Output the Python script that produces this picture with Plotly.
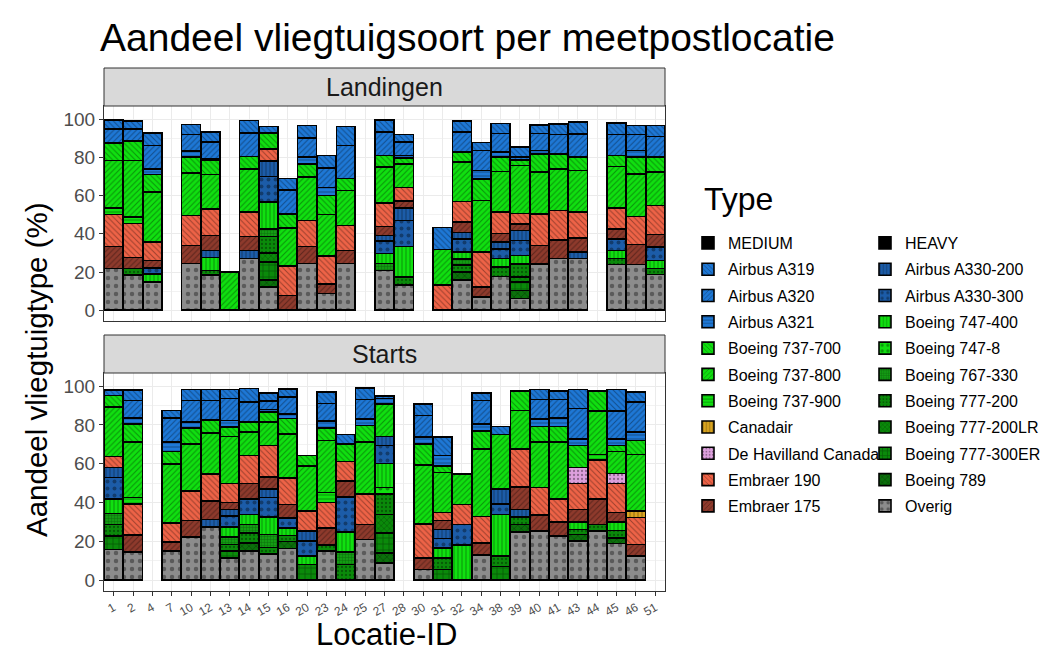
import plotly.graph_objects as go
from plotly.subplots import make_subplots

locaties = ['1', '2', '4', '7', '10', '12', '13', '14', '15', '16', '20', '23', '24', '25', '27',
            '28', '30', '31', '32', '34', '38', '39', '40', '41', '43', '44', '45', '46', '51']

# aandeel (%) per locatie, Landingen
l_a319 = [4.7, 4.0, 6.4, 0, 5.2, 5.2, 0, 6.6, 3.5, 6.0, 6.4, 6.4, 9.9, 0, 6.5, 4.0, 0, 11.5, 5.8, 4.3, 5.2, 5.3, 4.5, 5.6, 6.0, 0, 5.9, 4.7, 5.7]
l_a320 = [7.3, 6.5, 12.2, 0, 8.7, 8.7, 0, 12.2, 0, 12.6, 10.1, 10.4, 17.4, 0, 12.2, 7.0, 0, 0, 10.4, 10.5, 9.9, 1.4, 9.0, 10.1, 12.2, 0, 11.0, 8.3, 10.8]
l_a321 = [0, 0, 3.0, 0, 3.1, 0.9, 0, 0, 0, 0, 3.5, 4.0, 0, 0, 0, 1.2, 0, 0, 0, 4.3, 2.4, 0, 1.8, 0, 0, 0, 0, 3.5, 0]
l_b737_700 = [9.3, 10.1, 9.2, 0, 8.4, 7.3, 0, 6.4, 8.2, 7.3, 7.0, 10.0, 6.1, 0, 6.1, 3.1, 0, 0, 5.3, 11.3, 7.7, 2.9, 9.5, 7.8, 7.0, 0, 5.7, 8.7, 7.9]
l_b737_800 = [24.7, 29.6, 26.1, 0, 22.1, 17.9, 20.0, 22.7, 0, 20.0, 22.6, 21.7, 18.3, 0, 18.8, 12.5, 0, 18.6, 20.6, 27.0, 21.2, 25.1, 21.8, 21.8, 21.8, 0, 21.6, 22.3, 17.4]
l_b737_900 = [3.5, 3.4, 0, 0, 0, 0, 0, 0, 0, 0, 0, 0, 0, 0, 0, 0, 0, 0, 0, 0, 0, 0, 0, 0, 0, 0, 0, 0, 0]
l_canadair = [0] * 29
l_dhc = [0] * 29
l_e190 = [16.7, 17.8, 9.6, 0, 15.7, 13.9, 0, 12.7, 6.4, 15.3, 13.6, 14.5, 13.1, 0, 12.1, 7.0, 0, 13.1, 10.8, 18.2, 11.1, 5.5, 16.5, 15.3, 13.4, 0, 11.0, 14.6, 15.1]
l_e175 = [11.6, 5.7, 4.0, 0, 9.5, 7.9, 0, 7.3, 0, 7.8, 9.0, 5.2, 6.9, 0, 4.7, 3.5, 0, 0, 5.5, 5.2, 4.5, 3.4, 9.6, 9.9, 7.4, 0, 5.2, 10.5, 6.6]
l_a330_200 = [0, 0, 0, 0, 0, 3.8, 0, 4.3, 8.0, 0, 0, 0, 0, 0, 3.0, 6.6, 0, 0, 3.2, 0, 3.7, 5.2, 0, 0, 3.5, 0, 0, 0, 0]
l_a330_300 = [0, 0, 3.0, 0, 0, 0, 0, 0, 13.4, 0, 0, 0, 0, 0, 6.6, 13.6, 0, 0, 6.9, 0, 5.0, 7.8, 0, 0, 0, 0, 6.1, 0, 7.0]
l_b747_400 = [0, 0, 4.3, 0, 0, 6.6, 0, 0, 14.0, 0, 0, 0, 0, 0, 5.2, 16.0, 0, 0, 3.8, 0, 4.5, 4.4, 0, 0, 0, 0, 4.3, 0, 4.3]
l_b747_8 = [0] * 29
l_b767_330 = [0, 0, 0, 0, 0, 0, 0, 0, 4.0, 0, 0, 0, 0, 0, 3.5, 0, 0, 0, 3.0, 0, 0, 0, 0, 0, 0, 0, 0, 0, 0]
l_b777_200 = [0, 3.5, 0, 0, 0, 2.6, 0, 0, 8.7, 0, 0, 0, 0, 0, 0, 4.3, 0, 0, 3.7, 0, 4.8, 6.9, 0, 0, 0, 0, 3.0, 0, 3.0]
l_b777_200lr = [0, 0, 0, 0, 0, 0, 0, 0, 4.7, 0, 0, 0, 0, 0, 0, 0, 0, 0, 0, 0, 0, 2.6, 0, 0, 0, 0, 0, 0, 0]
l_b777_300er = [0, 0, 0, 0, 0, 0, 0, 0, 9.5, 0, 0, 0, 0, 0, 0, 0, 0, 0, 0, 0, 0, 4.4, 0, 0, 0, 0, 0, 0, 0]
l_b789 = [0, 0, 0, 0, 0, 0, 0, 0, 3.5, 0, 0, 0, 0, 0, 0, 0, 0, 0, 4.3, 0, 0, 4.3, 0, 0, 0, 0, 0, 0, 0]
l_overig = [21.8, 18.3, 14.8, 0, 24.4, 18.3, 0, 27.0, 12.2, 0, 24.4, 8.7, 24.4, 0, 20.9, 13.1, 0, 0, 15.7, 7.0, 17.7, 6.1, 24.3, 27.0, 27.0, 0, 24.0, 24.0, 18.8]

# aandeel (%) per locatie, Starts
s_a319 = [2.6, 5.2, 0, 3.8, 5.6, 5.6, 4.7, 6.9, 4.1, 4.3, 0, 6.1, 4.9, 6.0, 1.2, 0, 5.8, 9.5, 0, 3.9, 4.1, 0, 5.2, 4.5, 9.9, 0, 11.1, 5.2, 0]
s_a320 = [0, 9.0, 0, 12.6, 11.2, 10.0, 11.2, 10.4, 4.5, 8.7, 0, 9.0, 0, 9.9, 0, 0, 11.2, 0, 0, 12.2, 0, 0, 9.9, 9.4, 15.6, 0, 14.4, 15.6, 0]
s_a321 = [0, 3.1, 0, 4.7, 3.0, 0, 3.5, 0, 1.2, 2.2, 0, 3.5, 0, 3.4, 2.9, 0, 3.5, 5.2, 0, 3.4, 0, 0, 4.0, 4.5, 3.4, 0, 3.4, 4.3, 0]
s_b737_700 = [6.0, 9.5, 0, 6.5, 8.3, 6.9, 4.9, 5.2, 5.2, 8.1, 5.2, 6.5, 9.0, 8.7, 0, 0, 10.7, 3.5, 0, 9.5, 0, 10.1, 8.1, 8.1, 11.3, 10.4, 3.0, 7.3, 0]
s_b737_800 = [25.6, 28.5, 0, 30.3, 24.2, 21.1, 24.2, 12.1, 12.1, 22.5, 23.4, 26.8, 0, 26.8, 16.7, 0, 30.4, 20.7, 15.6, 34.6, 28.2, 19.9, 23.3, 29.4, 0, 22.5, 11.4, 29.1, 0]
s_b737_900 = [0, 3.2, 0, 0, 0, 0, 0, 0, 0, 0, 0, 5.2, 0, 0, 0, 0, 0, 0, 0, 0, 0, 0, 0, 0, 0, 2.8, 0, 0, 0]
s_canadair = [0, 0, 0, 0, 0, 0, 0, 0, 0, 0, 0, 0, 0, 0, 0, 0, 0, 0, 0, 0, 0, 0, 0, 0, 0, 0, 0, 3.4, 0]
s_dhc = [0, 0, 0, 0, 0, 0, 0, 0, 0, 0, 0, 0, 0, 0, 0, 0, 0, 0, 0, 0, 0, 0, 0, 0, 8.3, 0, 5.2, 0, 0]
s_e190 = [5.6, 16.2, 0, 9.9, 15.2, 13.9, 9.8, 14.4, 16.1, 13.9, 10.3, 13.0, 10.0, 15.6, 0, 0, 17.7, 4.0, 10.4, 13.9, 0, 19.5, 14.2, 11.6, 13.3, 20.2, 15.0, 13.9, 0]
s_e175 = [0, 8.7, 0, 4.8, 8.7, 9.5, 3.5, 8.1, 6.4, 6.9, 0, 9.0, 8.3, 7.8, 0, 0, 6.0, 4.7, 0, 6.0, 0, 11.6, 8.3, 7.4, 6.4, 13.0, 4.7, 6.0, 0]
s_a330_200 = [5.2, 0, 0, 0, 0, 4.0, 3.5, 0, 4.3, 0, 5.2, 0, 0, 0, 4.6, 0, 0, 4.6, 0, 0, 7.5, 4.0, 0, 0, 0, 0, 0, 0, 0]
s_a330_300 = [11.2, 0, 0, 0, 0, 0, 5.7, 7.8, 10.1, 5.2, 7.8, 0, 18.0, 0, 9.2, 0, 0, 4.9, 10.7, 0, 5.5, 0, 0, 0, 0, 0, 0, 0, 0]
s_b747_400 = [7.4, 0, 0, 0, 0, 0, 5.2, 5.2, 9.0, 3.8, 4.3, 0, 10.4, 0, 12.4, 0, 0, 5.2, 18.0, 0, 21.6, 0, 0, 0, 4.0, 0, 4.5, 0, 0]
s_b747_8 = [0, 0, 0, 0, 0, 0, 0, 0, 0, 0, 0, 0, 0, 0, 3.5, 0, 0, 0, 0, 0, 0, 0, 0, 0, 0, 0, 0, 0, 0]
s_b767_330 = [5.6, 0, 0, 0, 0, 0, 3.8, 4.3, 6.6, 0, 0, 0, 6.5, 0, 0, 0, 0, 0, 0, 0, 0, 0, 0, 0, 0, 0, 0, 0, 0]
s_b777_200 = [6.0, 0, 0, 0, 0, 0, 3.4, 5.2, 3.5, 3.1, 0, 3.1, 8.0, 0, 10.4, 0, 0, 6.0, 0, 0, 5.2, 3.8, 0, 0, 2.6, 3.4, 3.8, 0, 0]
s_b777_200lr = [0, 0, 0, 0, 0, 0, 0, 0, 0, 0, 0, 0, 0, 0, 9.5, 0, 0, 0, 0, 0, 0, 0, 0, 0, 0, 0, 0, 0, 0]
s_b777_300er = [7.0, 0, 0, 0, 0, 0, 3.5, 0, 0, 0, 8.0, 0, 0, 0, 10.4, 0, 0, 5.4, 0, 0, 7.1, 0, 0, 0, 0, 0, 0, 0, 0]
s_b789 = [0, 0, 0, 0, 0, 0, 0, 4.3, 0, 3.5, 0, 0, 0, 0, 5.2, 0, 0, 0, 0, 0, 0, 3.8, 0, 0, 3.4, 0, 2.9, 0, 0]
s_overig = [15.7, 14.5, 0, 14.9, 22.1, 27.3, 11.4, 14.9, 13.4, 16.4, 0, 14.9, 0, 20.9, 8.8, 0, 5.4, 0, 0, 13.0, 0, 24.9, 25.3, 22.7, 20.1, 25.3, 18.9, 12.3, 0]

# volgorde van onder naar boven in de stapel
soorten = [
    # naam, kleur, patroon, patroongrootte, legenda, landingen, starts
    ('Overig', '#8C8C8C', '.', 8, 'legend2', l_overig, s_overig),
    ('Boeing 789', '#0B700B', 'x', 5, 'legend2', l_b789, s_b789),
    ('Boeing 777-300ER', '#0A8A0A', '+', 6, 'legend2', l_b777_300er, s_b777_300er),
    ('Boeing 777-200LR', '#0A8A0A', 'x', 4, 'legend2', l_b777_200lr, s_b777_200lr),
    ('Boeing 777-200', '#0A8A0A', '.', 4, 'legend2', l_b777_200, s_b777_200),
    ('Boeing 767-330', '#139C13', '+', 3, 'legend2', l_b767_330, s_b767_330),
    ('Boeing 747-8', '#10E010', '.', 7, 'legend2', l_b747_8, s_b747_8),
    ('Boeing 747-400', '#10E010', '|', 4, 'legend2', l_b747_400, s_b747_400),
    ('Airbus A330-300', '#1C5CA8', '.', 7, 'legend2', l_a330_300, s_a330_300),
    ('Airbus A330-200', '#1C5CA8', '|', 4, 'legend2', l_a330_200, s_a330_200),
    ('HEAVY', 'black', '', 4, 'legend2', None, None),
    ('Embraer 175', '#8E3A2C', '/', 4, 'legend', l_e175, s_e175),
    ('Embraer 190', '#EE6347', '\\', 4, 'legend', l_e190, s_e190),
    ('De Havilland Canada', '#DDA0DD', '.', 4, 'legend', l_dhc, s_dhc),
    ('Canadair', '#DAA520', '|', 4, 'legend', l_canadair, s_canadair),
    ('Boeing 737-900', '#10E010', '-', 4, 'legend', l_b737_900, s_b737_900),
    ('Boeing 737-800', '#10E010', '/', 4, 'legend', l_b737_800, s_b737_800),
    ('Boeing 737-700', '#10E010', '\\', 4, 'legend', l_b737_700, s_b737_700),
    ('Airbus A321', '#1E78D6', '-', 4, 'legend', l_a321, s_a321),
    ('Airbus A320', '#1E78D6', '/', 4, 'legend', l_a320, s_a320),
    ('Airbus A319', '#1E78D6', '\\', 4, 'legend', l_a319, s_a319),
    ('MEDIUM', 'black', '', 4, 'legend', None, None),
]

FONT = 'Liberation Sans, Arial, sans-serif'


def leeg_naar_none(waarden):
    return [v if v else None for v in waarden]


fig = make_subplots(rows=2, cols=1, shared_xaxes=True)

for i, (naam, kleur, patroon, grootte, legenda, land, start) in enumerate(soorten):
    for rij, waarden in ((1, land), (2, start)):
        if waarden is None:
            x, y = [locaties[0]], [None]
        else:
            x, y = locaties, leeg_naar_none(waarden)
        fig.add_trace(go.Bar(
            x=x, y=y, name=naam,
            legendgroup=naam, legend=legenda, showlegend=(rij == 1),
            legendrank=len(soorten) - i,
            marker=dict(
                color=kleur,
                line=dict(color='black', width=1.6),
                pattern=dict(shape=patroon, fillmode='overlay', fgcolor='black',
                             fgopacity=0.35, size=grootte, solidity=0.25),
            ),
        ), row=rij, col=1)

as_stijl = dict(gridcolor='#EBEBEB', showline=True, linecolor='#333333', mirror=True,
                linewidth=1, zeroline=False)

fig.update_xaxes(type='category', categoryorder='array', categoryarray=locaties, **as_stijl)
fig.update_xaxes(showticklabels=False, ticks='', row=1, col=1)
fig.update_xaxes(ticks='outside', ticklen=4, tickcolor='#333333', tickangle=-30,
                 tickfont=dict(size=12, color='#4D4D4D'), row=2, col=1)
fig.update_yaxes(range=[-5.6, 106.8], tickvals=[0, 20, 40, 60, 80, 100],
                 ticks='outside', ticklen=4, tickcolor='#333333',
                 tickfont=dict(size=19, color='#4D4D4D'),
                 minor=dict(dtick=10, tick0=0, showgrid=True, gridcolor='#F2F2F2', gridwidth=0.6),
                 **as_stijl)


# posities in schermpixels: strip 68-106, paneel 106-321, strip 335-373, paneel 373-591
def frac(px):
    return (591 - px) / 523


def xfrac(px):
    return (px - 104) / 561


fig.update_layout(
    yaxis=dict(domain=[frac(321), frac(106)]),
    yaxis2=dict(domain=[frac(591), frac(373)]),
)

for tekst, boven, onder in (('Landingen', 68, 106), ('Starts', 335, 373)):
    fig.add_shape(type='rect', xref='paper', yref='paper', x0=0, x1=1,
                  y0=frac(onder), y1=frac(boven), fillcolor='#D9D9D9',
                  line=dict(color='#333333', width=1))
    fig.add_annotation(text=tekst, xref='paper', yref='paper', x=0.5, y=frac((boven + onder) / 2),
                       xanchor='center', yanchor='middle', showarrow=False,
                       font=dict(size=25, color='#1A1A1A'))

fig.add_annotation(text='Aandeel vliegtuigtype (%)', xref='paper', yref='paper',
                   x=xfrac(36), y=frac(370), xanchor='center', yanchor='middle',
                   textangle=-90, showarrow=False, font=dict(size=29.5, color='black'))
fig.add_annotation(text='Locatie-ID', xref='paper', yref='paper', x=xfrac(386), y=frac(634),
                   xanchor='center', yanchor='middle', showarrow=False,
                   font=dict(size=31, color='black'))
fig.add_annotation(text='Type', xref='paper', yref='paper', x=xfrac(702), y=frac(199),
                   xanchor='left', yanchor='middle', showarrow=False,
                   font=dict(size=32, color='black'))

# de pagina heeft 8px marge, dus figuur 8px kleiner en marges 8px minder
fig.update_layout(
    width=1041, height=644,
    margin=dict(l=96, r=1041 - 657, t=60, b=644 - 583, autoexpand=False),
    barmode='stack', bargap=0.02,
    plot_bgcolor='white', paper_bgcolor='white',
    font=dict(family=FONT, color='black'),
    title=dict(text='Aandeel vliegtuigsoort per meetpostlocatie', xref='container',
               x=92 / 1041, xanchor='left', y=1 - 29 / 644, yanchor='middle',
               font=dict(size=39, color='black')),
    legend=dict(x=xfrac(688), y=frac(226), xanchor='left', yanchor='top',
                bgcolor='rgba(0,0,0,0)', font=dict(size=16),
                traceorder='grouped', tracegroupgap=2.5),
    legend2=dict(x=xfrac(865), y=frac(226), xanchor='left', yanchor='top',
                 bgcolor='rgba(0,0,0,0)', font=dict(size=16),
                 traceorder='grouped', tracegroupgap=2.5),
)

fig.write_html('out.html')
